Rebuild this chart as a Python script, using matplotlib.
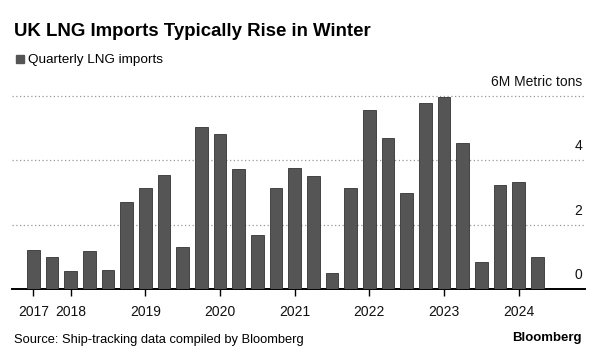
import matplotlib
matplotlib.use("Agg")
import matplotlib.pyplot as plt
import matplotlib.transforms as mtransforms

plt.rcParams["font.family"] = ["Liberation Sans", "DejaVu Sans"]

# ── data (million metric tons, quarterly) ───────────────────────────────────
quarters = ["Q3 2017", "Q4 2017",
            "Q1 2018", "Q2 2018", "Q3 2018", "Q4 2018",
            "Q1 2019", "Q2 2019", "Q3 2019", "Q4 2019",
            "Q1 2020", "Q2 2020", "Q3 2020", "Q4 2020",
            "Q1 2021", "Q2 2021", "Q3 2021", "Q4 2021",
            "Q1 2022", "Q2 2022", "Q3 2022", "Q4 2022",
            "Q1 2023", "Q2 2023", "Q3 2023", "Q4 2023",
            "Q1 2024", "Q2 2024"]
imports = [1.21, 1.01, 0.55, 1.18, 0.59, 2.72, 3.13, 3.53, 1.30, 5.05,
           4.81, 3.72, 1.68, 3.13, 3.75, 3.50, 0.50, 3.13, 5.58, 4.68,
           2.97, 5.79, 5.98, 4.55, 0.85, 3.23, 3.32, 1.01]
year_ticks = ["Q3 2017", "Q1 2018", "Q1 2019", "Q1 2020", "Q1 2021",
              "Q1 2022", "Q1 2023", "Q1 2024"]
year_labels = ["2017", "2018", "2019", "2020", "2021", "2022", "2023", "2024"]
y_grid = [0, 2, 4, 6]
y_labels = ["0", "2", "4", "6M Metric tons"]

BAR = "#555555"
W, H = 600, 360

fig = plt.figure(figsize=(6, 3.6), dpi=100)
ax = fig.add_axes([12 / W, 1 - 289 / H, (585 - 12) / W, (289 - 96) / H])

x = list(range(len(quarters)))
ax.bar(x, imports, width=0.68, color=BAR, edgecolor="#333333", linewidth=0.6,
       zorder=3)

ax.set_xlim(-1.15, 29.55)
ax.set_ylim(0, 6)

# dotted gridlines
for v in y_grid[1:]:
    ax.axhline(v, color="#999999", lw=0.9, ls=(0, (1, 2)), zorder=1,
               clip_on=False)

# right-side value labels sitting above gridlines
trans = mtransforms.blended_transform_factory(ax.transAxes, ax.transData)
for v, lab in zip(y_grid, y_labels):
    ax.annotate(lab, xy=(1.0, v), xycoords=trans, xytext=(-2, 10),
                textcoords="offset points", ha="right", va="center",
                fontsize=10, color="#111111")

# x axis
ax.set_xticks([quarters.index(q) for q in year_ticks])
ax.set_xticklabels(year_labels, fontsize=10, color="#111111")
ax.tick_params(axis="x", direction="out", length=5, width=1, pad=6.5,
               color="black")
ax.set_yticks([])
for s in ["top", "right", "left"]:
    ax.spines[s].set_visible(False)
ax.spines["bottom"].set_linewidth(1.4)
ax.spines["bottom"].set_color("black")

# title, legend, footer
fig.text(14 / W, 1 - 31 / H, "UK LNG Imports Typically Rise in Winter",
         fontsize=13.4, fontweight="bold", va="center", ha="left")
fig.patches.append(plt.Rectangle((16 / W, 1 - 63 / H), 8 / W, 8 / H,
                                 transform=fig.transFigure, color=BAR))
fig.text(28 / W, 1 - 59.5 / H, "Quarterly LNG imports", fontsize=9.7,
         va="center", ha="left")
fig.text(14 / W, 1 - 340 / H, "Source: Ship-tracking data compiled by Bloomberg",
         fontsize=9.3, va="center", ha="left")
fig.text(582 / W, 1 - 338 / H, "Bloomberg", fontsize=9.5, fontweight="bold",
         va="center", ha="right")

fig.savefig("out.png", dpi=100)
